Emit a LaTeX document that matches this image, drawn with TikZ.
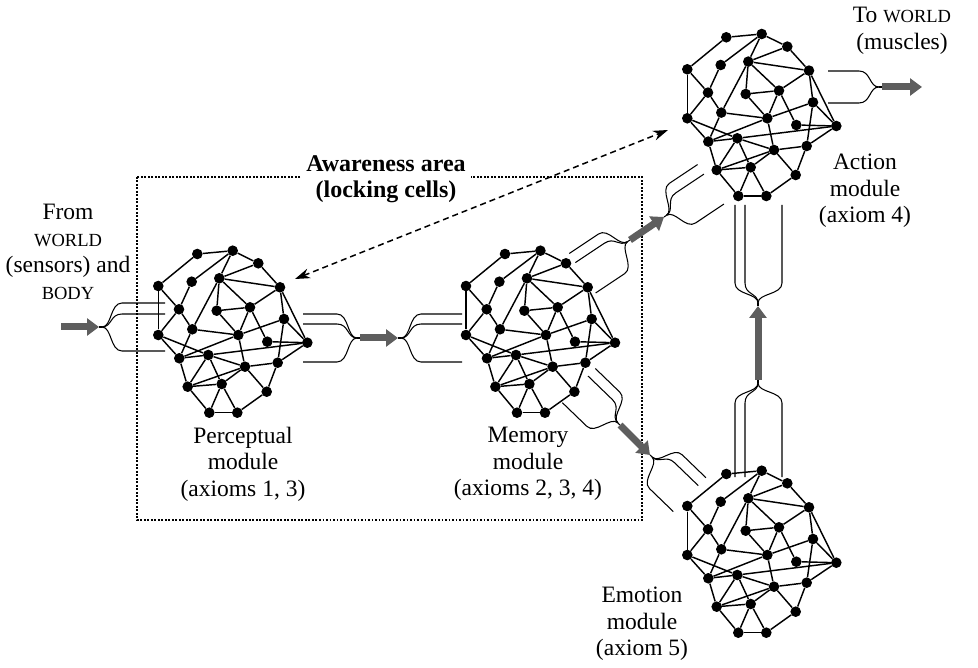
\documentclass[tikz,border=0pt]{standalone}
\usepackage{fontspec}
\setmainfont{Liberation Serif}
\usetikzlibrary{arrows.meta}
\definecolor{arrowgray}{HTML}{5E5E5E}

% reduced capitals for WORLD / BODY
\newcommand{\caps}[1]{{\fontsize{18.5}{26.5}\selectfont #1}}

% A bundle of thin fibres that merge into one point (#1), pointing at angle #2,
% with lateral offsets #3 and overall length #4.
\newcommand{\fanout}[4]{%
  \begin{scope}[shift={(#1)}, rotate=#2]
    \draw[fanline] (0,0) -- (3,0);
    \foreach \off in {#3}
      \draw[fanline] (3,0) .. controls (13,0) and (11,\off) .. (23,\off) -- (#4,\off);
  \end{scope}}

% One module: a net of 25 cells, prefix #1, placed at #2.
\newcommand{\network}[2]{%
  \begin{scope}[shift={(#2)}]
    \foreach \n/\px/\py in {1/57.3/24, 2/92.7/20.7, 3/118.3/33.3, 4/18.3/56,
        5/51.7/51.7, 6/79.3/48.3, 7/140/57.3, 8/39/79.3, 9/76.7/80.7,
        10/110/77.3, 11/144/89, 12/18.3/105, 13/52.3/99.3, 14/98.3/105,
        15/127.3/111.7, 16/167.3/112.7, 17/39.3/128.3, 18/68.3/125,
        19/105/136.7, 20/137.7/132.7, 21/47.7/156.7, 22/81.7/154,
        23/126.7/161.7, 24/69.3/182.7, 25/97.3/182.7}
      \node[dot] (#1\n) at (\px,\py) {};
    \foreach \a/\b in {1/2, 1/4, 2/3, 2/5, 2/6, 3/6, 3/7, 4/8, 4/12, 5/8,
        6/7, 6/9, 6/10, 6/13, 7/10, 7/11, 7/16, 8/12, 8/13, 9/10, 9/14,
        10/14, 10/15, 11/14, 11/16, 11/20, 12/17, 12/18, 13/14, 13/17,
        14/17, 14/19, 15/16, 16/18, 16/20, 17/18, 17/21, 18/19, 18/21,
        18/22, 19/20, 19/21, 19/22, 19/23, 20/23, 21/22, 21/24, 22/24,
        22/25, 23/25, 24/25}
      \draw[edge] (#1\a) -- (#1\b);
  \end{scope}}

\begin{document}
\begin{tikzpicture}[x=1pt, y=-1pt,
  edge/.style={line width=1.45pt},
  dot/.style={circle, fill, inner sep=0pt, minimum size=10.6pt},
  fanline/.style={line width=1.05pt},
  flow/.style={draw=arrowgray, line width=7pt, -{Triangle[length=12pt,width=17pt]}},
  lbl/.style={align=center, inner sep=0pt, font=\fontsize{23.5}{26.5}\selectfont},
  dotbox/.style={line width=2.3pt, dash pattern=on 1.8pt off 1.7pt},
  dual/.style={line width=1.5pt, dash pattern=on 6pt off 4pt, {Stealth[length=15pt,width=10pt]}-{Stealth[length=15pt,width=10pt]}},
]
\useasboundingbox (0,0) rectangle (978,668);

% awareness area frame
\draw[dotbox] (137,177) rectangle (642,520);

% the four modules
\network{p}{140,230}
\network{m}{447.7,230}
\network{a}{669,13.3}
\network{e}{669,450}

% junction points of the flows
\coordinate (in0) at (61,327);   \coordinate (in1) at (99,327);
\coordinate (pm0) at (360,338);  \coordinate (pm1) at (398,338);
\coordinate (ma0) at (630,240);  \coordinate (ma1) at (664,217);
\coordinate (me0) at (620,425);  \coordinate (me1) at (650,455);
\coordinate (ea0) at (758,380);  \coordinate (ea1) at (758,306);
\coordinate (aw0) at (882,87);   \coordinate (aw1) at (922,87);

% fibre bundles
\fanout{in1}{0}{-24,-13,24}{66}
\fanout{pm0}{180}{24,14,-24}{57}
\fanout{pm1}{0}{-24,-14,24}{64}
\fanout{ma0}{213.7}{22.5,11.5,-25}{58}
\fanout{ma1}{33.7}{-25,-13.5,22.5}{57}
\fanout{me0}{136}{23.5,13,-24}{57}
\fanout{me1}{-44}{-22.5,-11.5,24.5}{56}
\fanout{ea0}{-90}{23,13,-24}{97}
\fanout{ea1}{90}{-23,-13,24}{101}
\fanout{aw0}{180}{16,-16}{54}

% flow arrows
\draw[flow] (in0) -- (in1);
\draw[flow] (pm0) -- (pm1);
\draw[flow] (ma0) -- (ma1);
\draw[flow] (me0) -- (me1);
\draw[flow] (ea0) -- (ea1);
\draw[flow] (aw0) -- (aw1);

% awareness link between perception and action
\coordinate (dl) at (295,279);
\coordinate (dr) at (668,130);
\draw[dual] (dl) -- (dr);

% labels
\node[lbl, font=\fontsize{24}{26.5}\selectfont\bfseries, fill=white, inner xsep=5pt, inner ysep=2pt]
  (aware) at (386,179) {Awareness area\\(locking cells)};
\node[lbl] (from) at (68,252) {From\\\caps{WORLD}\\(sensors) and\\\caps{BODY}};
\node[lbl] (toworld) at (902,31) {To \caps{WORLD}\\(muscles)};
\node[lbl] (act) at (865,191) {Action\\module\\(axiom 4)};
\node[lbl] (perc) at (243,464) {Perceptual\\module\\(axioms 1, 3)};
\node[lbl] (mem) at (528,464) {Memory\\module\\(axioms 2, 3, 4)};
\node[lbl] (emo) at (642,624) {Emotion\\module\\(axiom 5)};
\end{tikzpicture}
\end{document}
